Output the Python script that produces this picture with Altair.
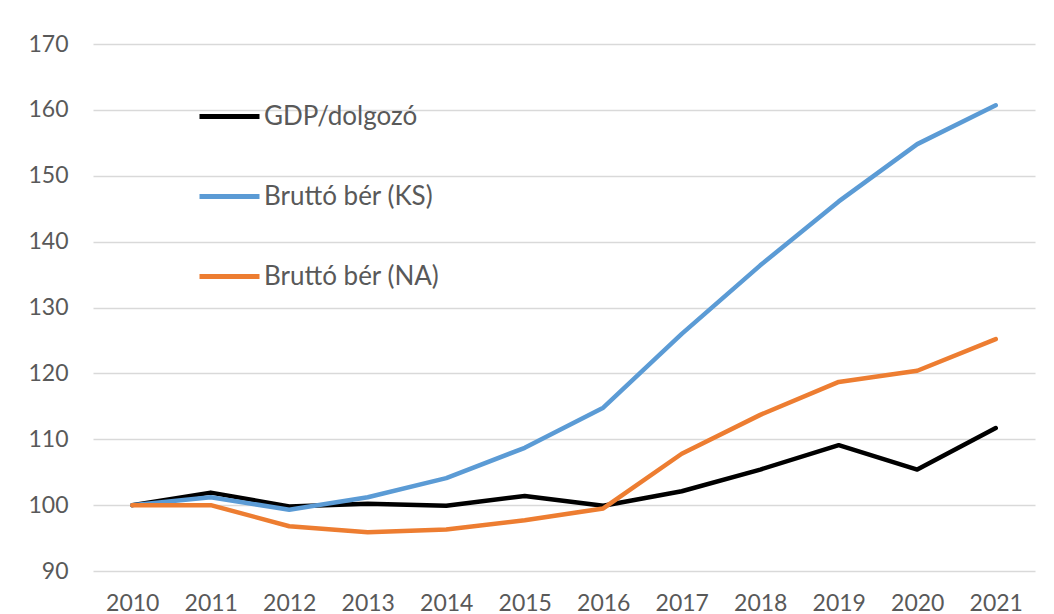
import altair as alt
import pandas as pd

years = [str(y) for y in range(2010, 2022)]
gdp = [100, 101.9, 99.8, 100.2, 99.9, 101.4, 99.9, 102.1, 105.4, 109.1, 105.4, 111.7]
ks = [100, 101.2, 99.3, 101.2, 104.1, 108.7, 114.8, 126.0, 136.4, 146.1, 154.8, 160.7]
na = [100, 100.0, 96.8, 95.9, 96.3, 97.7, 99.5, 107.8, 113.7, 118.7, 120.4, 125.2]

series = ["GDP/dolgozó", "Bruttó bér (KS)", "Bruttó bér (NA)"]
colors = ["#000000", "#5B9BD5", "#ED7D31"]

rows = []
for name, vals in zip(series, [gdp, ks, na]):
    for y, v in zip(years, vals):
        rows.append({"year": y, "value": v, "series": name})
df = pd.DataFrame(rows)

FONT = "Lato"

chart = alt.Chart(df).mark_line(strokeWidth=4.5, strokeJoin="round", strokeCap="round").encode(
    x=alt.X("year:N", title=None, sort=years,
            scale=alt.Scale(paddingInner=0, paddingOuter=0.5, padding=0.5),
            axis=alt.Axis(labelAngle=0, domain=False, ticks=False, grid=False,
                          labelFontSize=23, labelColor="#595959", labelFont=FONT,
                          labelPadding=21)),
    y=alt.Y("value:Q", title=None,
            scale=alt.Scale(domain=[90, 170], nice=False, zero=False),
            axis=alt.Axis(values=list(range(90, 171, 10)), domain=False, ticks=False,
                          gridColor="#D9D9D9", gridWidth=1.5,
                          labelFontSize=23, labelColor="#595959", labelFont=FONT,
                          labelPadding=25)),
    color=alt.Color("series:N", sort=series,
                    scale=alt.Scale(domain=series, range=colors),
                    legend=alt.Legend(title=None, orient="none", legendX=104, legendY=40,
                                      symbolType="stroke", symbolSize=3600,
                                      symbolStrokeWidth=5, labelFontSize=26,
                                      labelColor="#595959", labelFont=FONT,
                                      labelLimit=500,
                                      labelOffset=2, rowPadding=34)),
).properties(
    width=942, height=527,
    padding={"left": 85, "top": 36, "right": 10, "bottom": 50},
    autosize=alt.AutoSizeParams(type="none"),
).configure_view(stroke=None)

chart.save("out.html", embed_options={"renderer": "svg", "actions": False})
